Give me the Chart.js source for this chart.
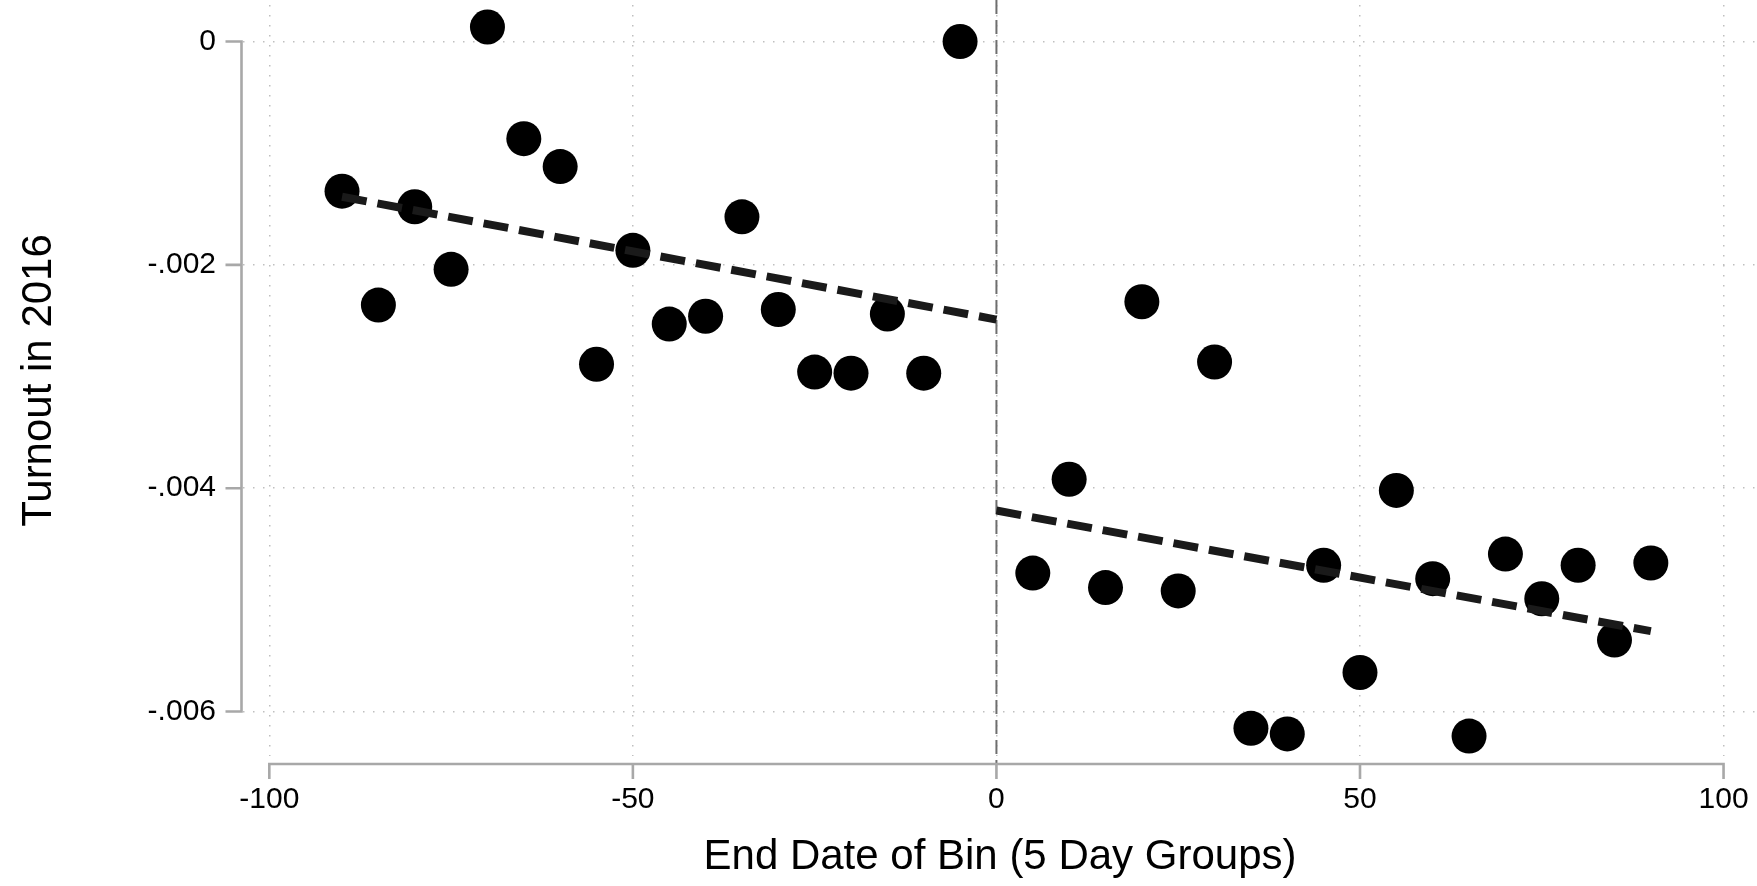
<!DOCTYPE html>
<html>
<head>
<meta charset="utf-8">
<script src="https://cdn.jsdelivr.net/npm/chart.js@4.4.1/dist/chart.umd.min.js"></script>
<style>
  html, body { margin: 0; padding: 0; background: #ffffff; }
  #wrap { width: 1757px; height: 886px; }
</style>
</head>
<body>
<div id="wrap"><canvas id="c" width="1757" height="886"></canvas></div>
<script>
// ---- data ----
const binsLeft = [-90, -85, -80, -75, -70, -65, -60, -55, -50, -45, -40, -35, -30, -25, -20, -15, -10, -5];
const turnoutLeft = [-0.00134, -0.00236, -0.00148, -0.00204, 0.00013, -0.00087, -0.00112, -0.00289, -0.00187,
                     -0.00253, -0.00246, -0.00157, -0.00240, -0.00296, -0.00297, -0.00244, -0.00297, 0.00000];
const binsRight = [5, 10, 15, 20, 25, 30, 35, 40, 45, 50, 55, 60, 65, 70, 75, 80, 85, 90];
const turnoutRight = [-0.00476, -0.00392, -0.00489, -0.00233, -0.00492, -0.00287, -0.00615, -0.00620, -0.00469,
                      -0.00565, -0.00402, -0.00481, -0.00622, -0.00459, -0.00499, -0.00469, -0.00536, -0.00467];
const fitLeftX = [-90, 0];
const fitLeftY = [-0.00139, -0.00249];
const fitRightX = [0, 90];
const fitRightY = [-0.00420, -0.00528];
const cutoff = 0;
const xTickValues = [-100, -50, 0, 50, 100];
const xTickLabels = ['-100', '-50', '0', '50', '100'];
const yTickValues = [0, -0.002, -0.004, -0.006];
const yTickLabels = ['0', '-.002', '-.004', '-.006'];
const xTitle = 'End Date of Bin (5 Day Groups)';
const yTitle = 'Turnout in 2016';
const xRange = [-103.62, 104.6];
const yRange = [-0.006398, 0.000327];

const pts = (xs, ys) => xs.map((v, i) => ({ x: v, y: ys[i] }));
const FONT = '"Liberation Sans", Arial, Helvetica, sans-serif';

const stataAxes = {
  id: 'stataAxes',
  beforeDatasetsDraw(chart) {
    const { ctx, chartArea, scales: { x, y } } = chart;
    ctx.save();
    // cutoff line
    const cx = x.getPixelForValue(cutoff);
    ctx.strokeStyle = '#6e6e6e';
    ctx.lineWidth = 2;
    ctx.setLineDash([14, 6]);
    ctx.beginPath();
    ctx.moveTo(cx, 0);
    ctx.lineTo(cx, chartArea.bottom + 8);
    ctx.stroke();
    ctx.setLineDash([]);
    // y axis
    ctx.strokeStyle = '#a8a8a8';
    ctx.lineWidth = 2.6;
    const ax = chartArea.left - 1.5;
    const yt = y.getPixelForValue(yTickValues[0]);
    const yb = y.getPixelForValue(yTickValues[yTickValues.length - 1]);
    ctx.beginPath();
    ctx.moveTo(ax, yt - 1.3);
    ctx.lineTo(ax, yb + 1.3);
    yTickValues.forEach(v => {
      const p = y.getPixelForValue(v);
      ctx.moveTo(ax - 16, p);
      ctx.lineTo(ax, p);
    });
    ctx.stroke();
    // x axis
    const ay = chartArea.bottom + 8;
    const xl = x.getPixelForValue(xTickValues[0]);
    const xr = x.getPixelForValue(xTickValues[xTickValues.length - 1]);
    ctx.beginPath();
    ctx.moveTo(xl - 1.3, ay);
    ctx.lineTo(xr + 1.3, ay);
    xTickValues.forEach(v => {
      const p = x.getPixelForValue(v);
      ctx.moveTo(p, ay);
      ctx.lineTo(p, ay + 15);
    });
    ctx.stroke();
    ctx.restore();
  }
};

new Chart(document.getElementById('c'), {
  type: 'scatter',
  data: {
    datasets: [
      { data: pts(fitLeftX, fitLeftY), showLine: true, pointRadius: 0, borderColor: '#1a1a1a',
        borderWidth: 8, borderDash: [25, 11], borderCapStyle: 'butt', order: 0, clip: false },
      { data: pts(fitRightX, fitRightY), showLine: true, pointRadius: 0, borderColor: '#1a1a1a',
        borderWidth: 8, borderDash: [25, 11], borderCapStyle: 'butt', order: 0, clip: false },
      { data: pts(binsLeft, turnoutLeft), pointRadius: 17.5, pointBackgroundColor: '#000',
        pointBorderWidth: 0, borderWidth: 0, order: 1, clip: false },
      { data: pts(binsRight, turnoutRight), pointRadius: 17.5, pointBackgroundColor: '#000',
        pointBorderWidth: 0, borderWidth: 0, order: 1, clip: false }
    ]
  },
  options: {
    responsive: false,
    animation: false,
    events: [],
    devicePixelRatio: 1,
    layout: { autoPadding: false, padding: { top: 5, right: 0, bottom: 0, left: 0 } },
    plugins: { legend: { display: false }, tooltip: { enabled: false } },
    scales: {
      x: {
        type: 'linear', min: xRange[0], max: xRange[1],
        afterBuildTicks: s => { s.ticks = xTickValues.map(v => ({ value: v })); },
        afterFit: s => { s.height = 130; s.paddingLeft = 0; s.paddingRight = 0; },
        grid: { color: '#bfbfbf', lineWidth: 1.5, drawTicks: false, borderDash: [1.5, 8.5] },
        border: { display: false, dash: [1.5, 8.5] },
        ticks: {
          autoSkip: false, maxRotation: 0, padding: 26, color: '#000',
          font: { family: FONT, size: 30 },
          callback: v => xTickLabels[xTickValues.indexOf(v)]
        },
        title: { display: true, text: xTitle, color: '#000', font: { family: FONT, size: 42 },
                 padding: { top: 0, bottom: 3 } }
      },
      y: {
        type: 'linear', min: yRange[0], max: yRange[1],
        afterBuildTicks: s => { s.ticks = yTickValues.map(v => ({ value: v })); },
        afterFit: s => { s.width = 243; s.paddingTop = 0; s.paddingBottom = 0; },
        grid: { color: '#bfbfbf', lineWidth: 1.5, drawTicks: false, borderDash: [1.5, 8.5] },
        border: { display: false, dash: [1.5, 8.5] },
        ticks: {
          autoSkip: false, padding: 27, color: '#000',
          font: { family: FONT, size: 30 },
          callback: v => yTickLabels[yTickValues.indexOf(v)]
        },
        title: { display: true, text: yTitle, color: '#000', font: { family: FONT, size: 42 },
                 padding: { top: 14, bottom: 0 } }
      }
    }
  },
  plugins: [stataAxes]
});
</script>
</body>
</html>
